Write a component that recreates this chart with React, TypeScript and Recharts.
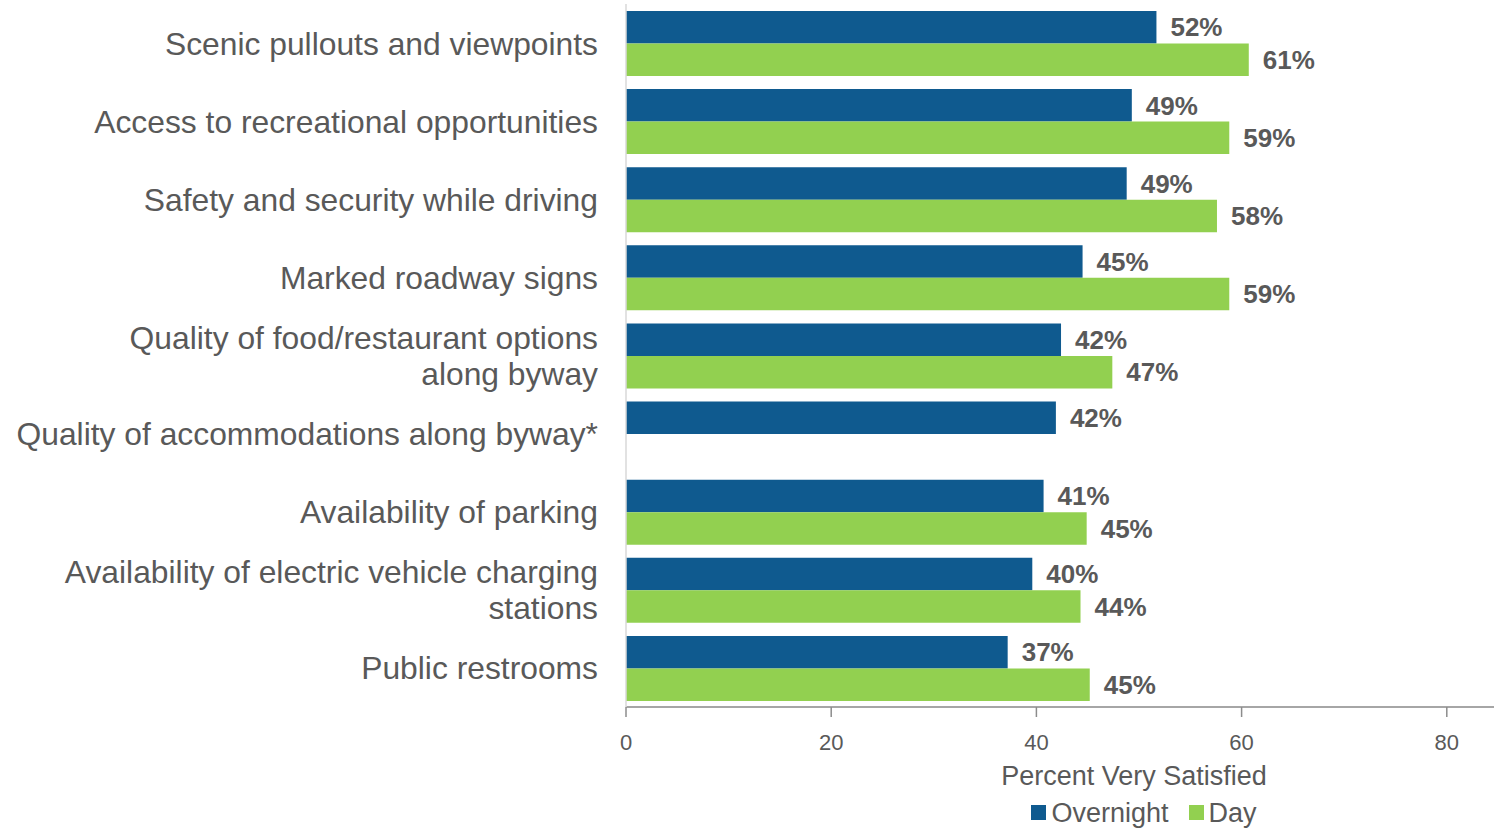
import React from 'react';
import { BarChart, Bar, XAxis, YAxis, Legend, LabelList } from 'recharts';

const categories = [
  'Scenic pullouts and viewpoints',
  'Access to recreational opportunities',
  'Safety and security while driving',
  'Marked roadway signs',
  'Quality of food/restaurant options\nalong byway',
  'Quality of accommodations along byway*',
  'Availability of parking',
  'Availability of electric vehicle charging\nstations',
  'Public restrooms',
];
const overnightValues = [51.7, 49.3, 48.8, 44.5, 42.4, 41.9, 40.7, 39.6, 37.2];
const dayValues: (number | null)[] = [60.7, 58.8, 57.6, 58.8, 47.4, null, 44.9, 44.3, 45.2];
const xTicks = [0, 20, 40, 60, 80];
const seriesOrder = ['Overnight', 'Day'];

const data = categories.map((name, i) => ({
  name,
  overnight: overnightValues[i],
  day: dayValues[i],
}));

const TEXT = '#595959';
const BLUE = '#0F5A8F';
const GREEN = '#92D050';
const FONT = '"Liberation Sans", Arial, sans-serif';

const fmt = (v: any) => (v === null || v === undefined ? '' : `${Math.round(Number(v))}%`);

const CategoryTick = (props: any) => {
  const { x, y, payload } = props;
  const lines = String(payload.value).split('\n');
  const lh = 36;
  const start = y - ((lines.length - 1) * lh) / 2;
  return (
    <text x={x} y={start} textAnchor="end" fill={TEXT} fontSize={31.8} fontFamily={FONT}>
      {lines.map((l: string, i: number) => (
        <tspan key={i} x={x} y={start + i * lh} dy="0.36em">
          {l}
        </tspan>
      ))}
    </text>
  );
};

const LegendContent = (props: any) => {
  const payload = [...(props.payload || [])].sort(
    (a: any, b: any) => seriesOrder.indexOf(a.value) - seriesOrder.indexOf(b.value)
  );
  return (
    <div style={{ textAlign: 'center', fontSize: 27, color: TEXT, fontFamily: FONT, lineHeight: '31px' }}>
      {payload.map((p: any, i: number) => (
        <span key={i} style={{ display: 'inline-block', marginRight: i === 0 ? 20 : 0 }}>
          <span
            style={{
              display: 'inline-block',
              width: 15,
              height: 15,
              background: p.color,
              marginRight: 5,
              verticalAlign: 'middle',
              position: 'relative',
              top: -2,
            }}
          />
          {p.value}
        </span>
      ))}
    </div>
  );
};

export default function App() {
  return (
    <div
      style={{
        position: 'absolute',
        left: 0,
        top: 0,
        width: 1494,
        height: 829,
        overflow: 'hidden',
        background: '#fff',
        fontFamily: FONT,
      }}
    >
      <BarChart
        width={1700}
        height={829}
        data={data}
        layout="vertical"
        margin={{ top: 4, right: 48, bottom: 0, left: 0 }}
        barGap={0}
        barSize={32.5}
      >
        <XAxis
          type="number"
          domain={[0, 100]}
          ticks={xTicks}
          interval={0}
          tick={{ fontSize: 22, fill: TEXT }}
          tickSize={10}
          tickMargin={17}
          axisLine={{ stroke: '#a6a6a6', strokeWidth: 2 }}
          tickLine={{ stroke: '#8c8c8c', strokeWidth: 1.5 }}
          height={91}
          label={{
            value: 'Percent Very Satisfied',
            position: 'insideBottom',
            offset: 13,
            fontSize: 27,
            fill: TEXT,
            dx: -5,
          }}
        />
        <YAxis
          type="category"
          dataKey="name"
          width={626}
          tickLine={false}
          tickSize={0}
          tickMargin={28}
          interval={0}
          axisLine={{ stroke: '#d9d9d9', strokeWidth: 1.5 }}
          tick={<CategoryTick />}
        />
        <Legend
          verticalAlign="bottom"
          wrapperStyle={{ left: 626, width: 1036 }}
          content={<LegendContent />}
        />
        <Bar dataKey="overnight" name="Overnight" fill={BLUE} isAnimationActive={false}>
          <LabelList
            dataKey="overnight"
            position="right"
            offset={14}
            formatter={fmt}
            fill={TEXT}
            fontSize={26}
            fontWeight="bold"
          />
        </Bar>
        <Bar dataKey="day" name="Day" fill={GREEN} isAnimationActive={false}>
          <LabelList
            dataKey="day"
            position="right"
            offset={14}
            formatter={fmt}
            fill={TEXT}
            fontSize={26}
            fontWeight="bold"
          />
        </Bar>
      </BarChart>
    </div>
  );
}
